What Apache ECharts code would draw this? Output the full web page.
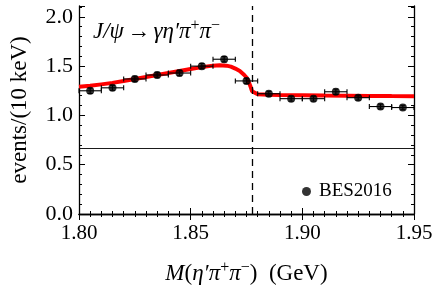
<!DOCTYPE html>
<html><head><meta charset="utf-8">
<script src="https://cdn.jsdelivr.net/npm/echarts@6/dist/echarts.min.js"></script>
<style>html,body{margin:0;padding:0;background:#fff}#c{width:436px;height:297px}</style>
</head><body><div id="c"></div>
<script>
// Data
const binCenters = [1.805,1.815,1.825,1.835,1.845,1.855,1.865,1.875,1.885,1.895,1.905,1.915,1.925,1.935,1.945];
const binValues  = [1.25,1.28,1.37,1.41,1.43,1.50,1.57,1.35,1.22,1.17,1.17,1.24,1.18,1.09,1.08];
const binYErr    = [0.027,0.025,0.027,0.027,0.027,0.027,0.027,0.027,0.025,0.025,0.025,0.027,0.025,0.025,0.023];
const binXErr    = 0.005;
const fitX = [1.800,1.805,1.810,1.815,1.820,1.825,1.830,1.835,1.840,1.845,1.850,1.855,1.860,1.863,1.866,1.868,1.870,1.872,1.874,1.875,1.876,1.877,1.8775,1.878,1.880,1.885,1.890,1.900,1.910,1.920,1.930,1.940,1.950];
const fitY = [1.29,1.30,1.315,1.33,1.35,1.37,1.39,1.41,1.43,1.45,1.47,1.49,1.505,1.51,1.505,1.495,1.475,1.45,1.41,1.385,1.34,1.28,1.245,1.228,1.215,1.21,1.208,1.205,1.202,1.20,1.198,1.196,1.195];
const thresholdX = 1.8777;
const baselineY = 0.67;
const xTicks = [1.80,1.85,1.90,1.95];
const yTicks = [0.0,0.5,1.0,1.5,2.0];

const serif = 'Liberation Serif';
const chart = echarts.init(document.getElementById('c'), null, {renderer:'canvas'});
const line = {show:true,lineStyle:{color:'#000',width:1.3}};
const tick = {show:true,inside:true,length:6,lineStyle:{color:'#000',width:1}};
const yMinor = {show:true,splitNumber:5,length:3,lineStyle:{color:'#000',width:1}};
const xMinor = {show:true,splitNumber:10,length:3,lineStyle:{color:'#000',width:1}};
const rich = {
  i:{fontFamily:serif,fontStyle:'italic',fontSize:23,color:'#000',lineHeight:27},
  r:{fontFamily:serif,fontSize:23,color:'#000',lineHeight:27},
  s:{fontFamily:serif,fontSize:16,color:'#000',verticalAlign:'top',lineHeight:18}
};
chart.setOption({
  animation:false,
  backgroundColor:'#fff',
  grid:{left:79,right:22,top:6,bottom:83,containLabel:false},
  xAxis:[
    {type:'value',min:1.80,max:1.95,interval:0.05,position:'bottom',
      axisLine:line,axisTick:tick,minorTick:xMinor,splitLine:{show:false},minorSplitLine:{show:false},
      axisLabel:{margin:9,fontFamily:serif,fontSize:21,color:'#000',
        formatter:v=>{const t=xTicks.find(k=>Math.abs(k-v)<1e-6);return t===undefined?'':t.toFixed(2);}},
      name:'{i|M}{r|(}{i|η′π}{s|+}{i|π}{s|−}{r|)  (GeV)}',nameLocation:'middle',nameGap:46,
      nameTextStyle:{rich:rich}},
    {type:'value',min:1.80,max:1.95,interval:0.05,position:'top',
      axisLine:line,axisTick:tick,minorTick:xMinor,
      axisLabel:{show:false},splitLine:{show:false}}
  ],
  yAxis:[
    {type:'value',min:0,max:2.11,interval:0.5,position:'left',
      axisLine:line,axisTick:tick,minorTick:yMinor,splitLine:{show:false},
      axisLabel:{margin:6,fontFamily:serif,fontSize:22,color:'#000',
        formatter:v=>{const t=yTicks.find(k=>Math.abs(k-v)<1e-6);return t===undefined?'':t.toFixed(1);}},
      name:'events/(10 keV)',nameLocation:'middle',nameGap:48,nameRotate:90,
      nameTextStyle:{fontFamily:serif,fontSize:23,color:'#000'}},
    {type:'value',min:0,max:2.11,interval:0.5,position:'right',
      axisLine:line,axisTick:tick,minorTick:yMinor,splitLine:{show:false},axisLabel:{show:false}}
  ],
  legend:{show:true,left:297,top:177,itemWidth:9,itemHeight:9,itemGap:4,
    data:[{name:'BES2016',icon:'circle'}],
    textStyle:{fontFamily:serif,fontSize:19,color:'#000',padding:[0,0,0,3]}},
  graphic:[
    {type:'text',left:93,top:18,style:{
      text:'{i|J/ψ} {r|→} {i|γη′π}{s|+}{i|π}{s|−}',rich:rich}}
  ],
  series:[
    {type:'line',name:'fit',data:fitX.map((x,i)=>[x,fitY[i]]),showSymbol:false,symbol:'none',
      lineStyle:{color:'#ff0000',width:4},z:3,
      markLine:{silent:true,symbol:'none',precision:5,label:{show:false},
        data:[
          {xAxis:thresholdX,lineStyle:{type:[7,5],color:'#000',width:1.3}},
          {yAxis:baselineY,lineStyle:{type:'solid',color:'#000',width:0.9}}
        ]}},
    {type:'custom',name:'errors',z:4,
      data:binCenters.map((x,i)=>[x,binValues[i],binYErr[i]]),
      renderItem:(params,api)=>{
        const x=api.value(0),y=api.value(1),e=api.value(2);
        const l=api.coord([x-binXErr,y]),r=api.coord([x+binXErr,y]);
        const t=api.coord([x,y+e]),b=api.coord([x,y-e]);
        const st={stroke:'#000',lineWidth:1.1};
        const cap=2.5;
        return {type:'group',children:[
          {type:'line',shape:{x1:l[0],y1:l[1],x2:r[0],y2:r[1]},style:st},
          {type:'line',shape:{x1:l[0],y1:l[1]-cap,x2:l[0],y2:l[1]+cap},style:st},
          {type:'line',shape:{x1:r[0],y1:r[1]-cap,x2:r[0],y2:r[1]+cap},style:st},
          {type:'line',shape:{x1:t[0],y1:t[1],x2:b[0],y2:b[1]},style:st},
          {type:'line',shape:{x1:t[0]-cap,y1:t[1],x2:t[0]+cap,y2:t[1]},style:st},
          {type:'line',shape:{x1:b[0]-cap,y1:b[1],x2:b[0]+cap,y2:b[1]},style:st}
        ]};
      }},
    {type:'scatter',name:'BES2016',z:5,symbol:'circle',symbolSize:8,
      itemStyle:{color:'#000'},
      data:binCenters.map((x,i)=>[x,binValues[i]])}
  ]
});
</script></body></html>
